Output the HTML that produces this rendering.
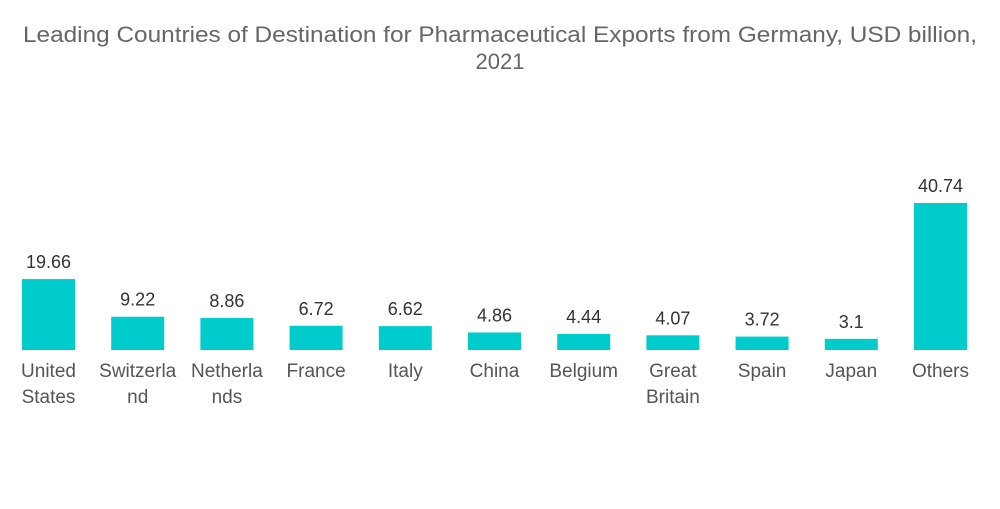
<!DOCTYPE html>
<html><head><meta charset="utf-8"><style>
body{margin:0;background:#fff;width:1000px;height:504px;overflow:hidden;font-family:"Liberation Sans",sans-serif}
</style></head><body>
<svg width="1000" height="504">
<text x="500" y="42" text-anchor="middle" font-size="22" fill="#666" textLength="954" lengthAdjust="spacingAndGlyphs">Leading Countries of Destination for Pharmaceutical Exports from Germany, USD billion,</text>
<text x="500" y="69" text-anchor="middle" font-size="22" fill="#666">2021</text>
<g id="bars"></g>
</svg>
<script>
const categories=[["United","States"],["Switzerla","nd"],["Netherla","nds"],["France"],["Italy"],["China"],["Belgium"],["Great","Britain"],["Spain"],["Japan"],["Others"]];
const values=[19.66,9.22,8.86,6.72,6.62,4.86,4.44,4.07,3.72,3.1,40.74];
const labels=["19.66","9.22","8.86","6.72","6.62","4.86","4.44","4.07","3.72","3.1","40.74"];
const base=350,scale=147/40.74,x0=48.5,step=89.2,bw=53;
const yS=v=>base-v*scale, xS=i=>x0+i*step;
const g=document.getElementById('bars');const ns="http://www.w3.org/2000/svg";
values.forEach((v,i)=>{
const r=document.createElementNS(ns,'rect');
r.setAttribute('x',xS(i)-bw/2);r.setAttribute('y',yS(v));r.setAttribute('width',bw);r.setAttribute('height',base-yS(v));r.setAttribute('fill','#00CCCC');


g.appendChild(r);
const t=document.createElementNS(ns,'text');
t.setAttribute('x',xS(i));t.setAttribute('y',yS(v)-11);t.setAttribute('text-anchor','middle');t.setAttribute('font-size','18');t.setAttribute('fill','#333');t.textContent=labels[i];


g.appendChild(t);
categories[i].forEach((c,j)=>{
const l=document.createElementNS(ns,'text');
l.setAttribute('x',xS(i));l.setAttribute('y',377+j*26);l.setAttribute('text-anchor','middle');l.setAttribute('font-size','19');l.setAttribute('fill','#555');l.textContent=c;


g.appendChild(l);});
});
</script>
</body></html>
